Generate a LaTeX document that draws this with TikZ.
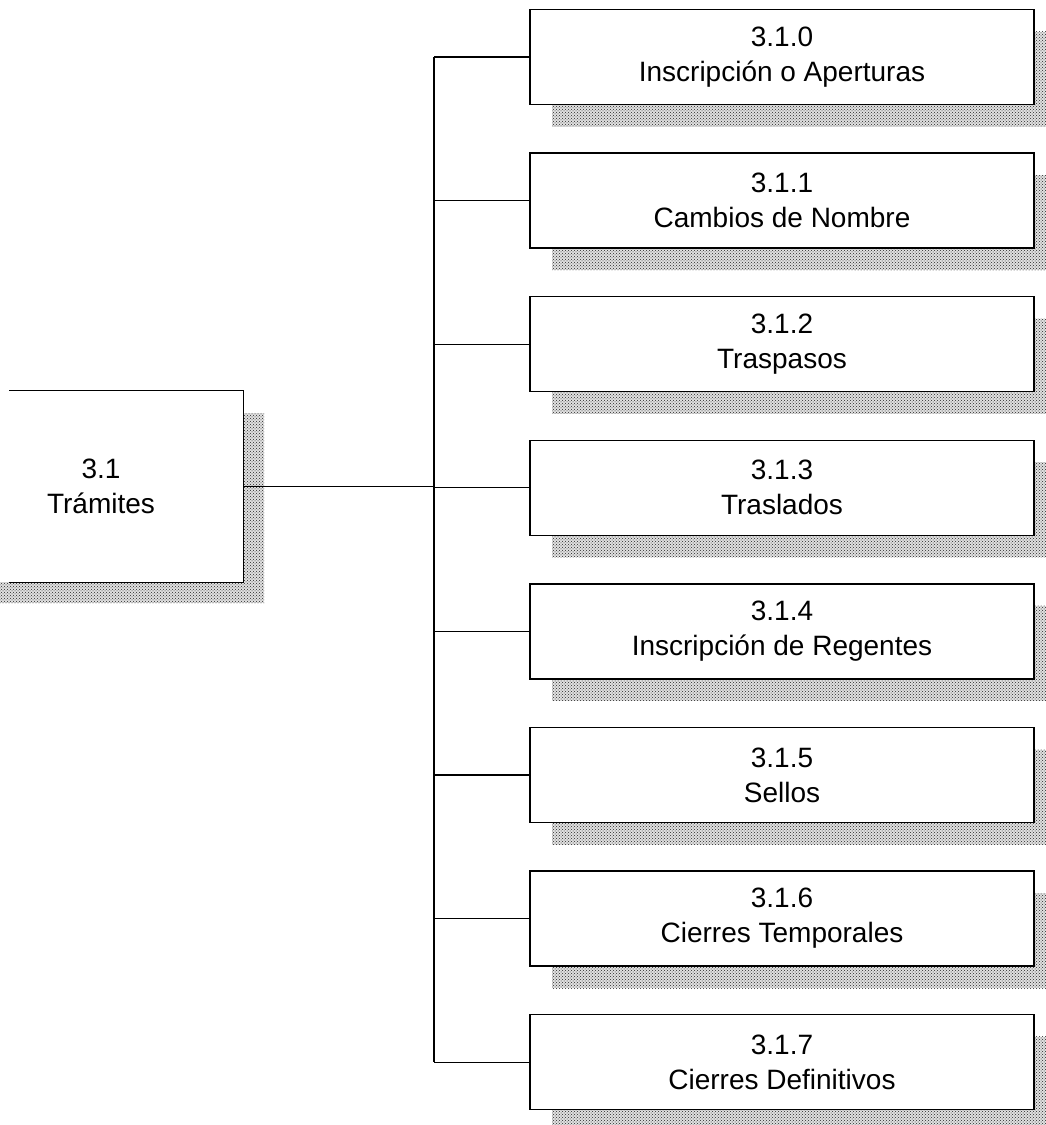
\documentclass[tikz,border=0pt]{standalone}
\usepackage{fontspec}
\setmainfont{Liberation Sans}
\usetikzlibrary{patterns}
\begin{document}
\begin{tikzpicture}[x=1pt,y=-1pt,
  box/.style={line width=1.3pt, fill=white, inner sep=0pt,
    align=center, font=\fontsize{28}{35}\selectfont},
  subbox/.style={box, draw=black, minimum width=504pt, minimum height=95pt},
  mainbox/.style={box, minimum width=284pt, minimum height=191pt},
  shadowfill/.style={preaction={fill=black!12}, pattern=crosshatch dots, pattern color=black!85},
  link/.style={line width=1.2pt, draw=black}]
\useasboundingbox (0,0) rectangle (1046,1125);
\clip (0,0) rectangle (1046,1125);

% root box, its left side runs off the page
\fill[shadowfill] (-19,413) rectangle (264,603);
\node[mainbox] (root) at (101,486.5) {3.1\\Trámites};
\begin{scope}
  \clip (9,0) rectangle (1046,1125);
  \draw[line width=1.3pt] (root.north west) rectangle (root.south east);
\end{scope}

% column of sub-process boxes
\foreach \i/\txt in {0/Inscripción o Aperturas, 1/Cambios de Nombre,
    2/Traspasos, 3/Traslados, 4/Inscripción de Regentes, 5/Sellos,
    6/Cierres Temporales, 7/Cierres Definitivos} {
  \pgfmathsetmacro{\cy}{57+143.6*\i}
  \fill[shadowfill] (552,\cy-25.5) rectangle (1056,\cy+69.5);
  \node[subbox] (b\i) at (782,\cy) {3.1.\i\\\txt};
}

% bus line joining the root to every sub-process
\coordinate (bus) at (434,0);
\draw[link] (root.east) -- (bus |- root.east);
\draw[link] (bus |- b0.west) -- (bus |- b7.west);
\foreach \i in {0,...,7} {
  \draw[link] (bus |- b\i.west) -- (b\i.west);
}
\end{tikzpicture}
\end{document}
